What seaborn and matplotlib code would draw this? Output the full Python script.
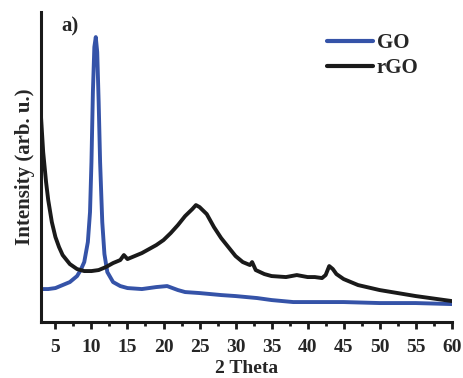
import matplotlib
matplotlib.use("Agg")
import matplotlib.pyplot as plt
import seaborn as sns
import pandas as pd
from matplotlib.ticker import MultipleLocator

sns.set_theme(style="white")
plt.rcParams['font.family'] = ['Liberation Serif', 'DejaVu Serif']
plt.rcParams['font.weight'] = 'bold'

# GO pattern (2θ, intensity arb. u.)
go_x = [3, 4, 5, 6, 7, 8, 8.5, 9, 9.5, 9.8, 10.0, 10.2, 10.4, 10.6, 10.8, 11.0, 11.2, 11.5, 11.8, 12.2, 13, 14, 15, 17, 19, 20.5, 22, 23, 25, 28, 30, 33, 35, 38, 40, 45, 50, 55, 60]
go_y = [33, 33, 34, 37, 40, 46, 52, 60, 80, 110, 160, 230, 275, 285, 270, 220, 160, 100, 68, 50, 40, 36, 34, 33, 35, 36, 32, 30, 29, 27, 26, 24, 22, 20, 20, 20, 19, 19, 18]

# rGO pattern
rgo_x = [3, 3.3, 3.7, 4, 4.5, 5, 5.5, 6, 7, 8, 9, 10, 11, 12, 13, 14, 14.5, 15, 16, 17, 18, 19, 20, 21, 22, 23, 24, 24.5, 25, 26, 27, 28, 29, 30, 31, 32, 32.3, 32.8, 34, 35, 37, 38.5, 40, 41, 42, 42.5, 43, 43.5, 44, 45, 47, 50, 55, 58, 60]
rgo_y = [205, 170, 140, 122, 100, 85, 75, 67, 58, 53, 51, 51, 52, 55, 59, 62, 67, 63, 66, 69, 73, 77, 82, 89, 97, 106, 113, 117, 115, 108, 95, 84, 75, 66, 60, 57, 60, 52, 48, 46, 45, 47, 45, 45, 44, 47, 56, 53, 48, 43, 37, 32, 26, 23, 21]

df = pd.concat([
    pd.DataFrame({"theta": go_x, "intensity": go_y, "sample": "GO"}),
    pd.DataFrame({"theta": rgo_x, "intensity": rgo_y, "sample": "rGO"}),
])

fig = plt.figure(figsize=(4.63, 3.78), dpi=100)
ax = fig.add_axes([0.0886, 0.148, 0.887, 0.82])

sns.lineplot(data=df, x="theta", y="intensity", hue="sample",
             palette={"GO": "#3553a8", "rGO": "#1a1a1a"}, ax=ax,
             linewidth=2.8, sort=True)
for line in ax.get_lines():
    line.set_solid_joinstyle('round')

ax.set_xlim(3, 60)
ax.set_ylim(0, 310)
ax.set_yticks([])
ax.set_xticks([5, 10, 15, 20, 25, 30, 35, 40, 45, 50, 55, 60])
ax.xaxis.set_minor_locator(MultipleLocator(2.5))
ax.tick_params(axis='x', which='major', direction='out', length=5, width=2,
               bottom=True, labelsize=14, pad=7, color='#1a1a1a')
ax.tick_params(axis='x', which='minor', direction='out', length=3, width=2,
               bottom=True, color='#1a1a1a')
for lbl in ax.get_xticklabels():
    lbl.set_fontweight('bold')

for s in ['top', 'right']:
    ax.spines[s].set_visible(False)
for s in ['left', 'bottom']:
    ax.spines[s].set_linewidth(2.2)
    ax.spines[s].set_color('#1a1a1a')

ax.set_xlabel("2 Theta", fontsize=14, fontweight='bold', labelpad=3)
ax.set_ylabel("Intensity (arb. u.)", fontsize=15, fontweight='bold', labelpad=4)

ax.text(0.05, 0.985, "a)", transform=ax.transAxes, fontsize=15,
        fontweight='bold', va='top', ha='left')

leg = ax.legend(loc='upper left', bbox_to_anchor=(0.696, 0.932), frameon=False,
                fontsize=15, handlelength=2.2, handletextpad=0.2,
                labelspacing=0.25, borderaxespad=0, borderpad=0)
for t in leg.get_texts():
    t.set_fontweight('bold')
for h in leg.get_lines():
    h.set_linewidth(3)

fig.savefig("out.png", dpi=100)
